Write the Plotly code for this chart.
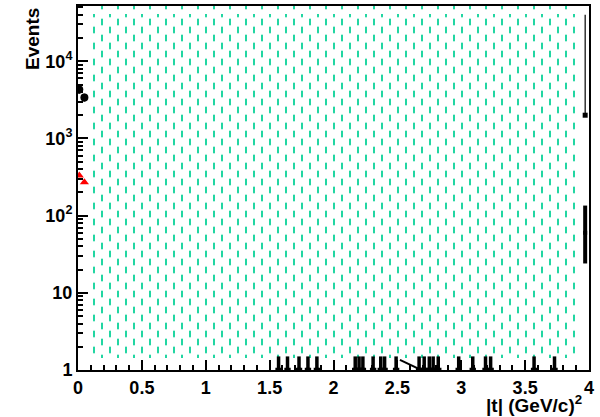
import plotly.graph_objects as go

# ---- data ----
hatch_x_range = [0.1, 3.93]       # extent of the hatched histogram
hatch_floor = 1.45
hatch_level = 1e6                 # off-scale

black_x = [0.01, 0.05]
black_y = [4300, 3400]
black_err_up = [500, 400]
black_err_dn = [500, 400]

red_x = [0.01, 0.05]
red_y = [330, 270]

low_x = [1.57, 1.64, 1.73, 1.80, 1.87, 2.17, 2.20, 2.23, 2.31, 2.37, 2.40, 2.49,
         2.67, 2.71, 2.75, 2.78, 2.82, 2.98, 3.09, 3.19, 3.23, 3.57, 3.73]
low_y = [1.03] * len(low_x)

slope_x = [2.52, 2.66]
slope_y = [1.35, 1.05]

edge_hi_x = [3.97]
edge_hi_y = [2000]
edge_hi_up = [38000]
edge_hi_dn = [0]

edge_lo_x = [3.97]
edge_lo_y = [60]
edge_lo_up = [75]
edge_lo_dn = [36]

x_ticks = [0, 0.5, 1, 1.5, 2, 2.5, 3, 3.5, 4]
x_ticklabels = ["0", "0.5", "1", "1.5", "2", "2.5", "3", "3.5", "4"]
y_ticks = [1, 10, 100, 1000, 10000]
y_ticklabels = ["1", "10", "10<sup>2</sup>", "10<sup>3</sup>", "10<sup>4</sup>"]

GREEN = "#22d6a2"
FONT = "Liberation Sans"

# ---- layout geometry ----
W, H = 600, 417
ML, MR, MT, MB = 78, 11, 4, 47
PW, PH = W - ML - MR, H - MT - MB
XR = [0, 4]
YR = [0, 4.716]
SHIFT = 8          # px offset of the second (staggered) hatch grid
TILE = 16

fig = go.Figure()

hx = (hatch_x_range[0] + hatch_x_range[1]) / 2
hw = hatch_x_range[1] - hatch_x_range[0]


def hatch(xa, ya):
    # green vertical lines
    fig.add_trace(go.Bar(x=[hx], y=[hatch_level - hatch_floor], base=[hatch_floor], width=[hw],
                         xaxis=xa, yaxis=ya,
                         marker=dict(color="rgba(0,0,0,0)", line=dict(width=0),
                                     pattern=dict(shape="|", fgcolor=GREEN, bgcolor="rgba(0,0,0,0)",
                                                  size=TILE, solidity=2 / TILE, fillmode="replace")),
                         hoverinfo="skip", showlegend=False))
    # white gaps that break them into dashes
    fig.add_trace(go.Bar(x=[hx], y=[hatch_level - hatch_floor], base=[hatch_floor], width=[hw],
                         xaxis=xa, yaxis=ya,
                         marker=dict(color="rgba(0,0,0,0)", line=dict(width=0),
                                     pattern=dict(shape=".", fgcolor="white", bgcolor="rgba(0,0,0,0)",
                                                  size=TILE, solidity=0.29, fillmode="replace")),
                         hoverinfo="skip", showlegend=False))


hatch("x", "y")
hatch("x2", "y2")

fig.add_trace(go.Scatter(x=black_x, y=black_y, mode="markers", xaxis="x3", yaxis="y3",
                         marker=dict(symbol="circle", size=8, color="black"),
                         error_y=dict(type="data", array=black_err_up, arrayminus=black_err_dn,
                                      color="black", thickness=2, width=0),
                         error_x=dict(type="constant", value=0.02, color="black", thickness=2, width=0),
                         showlegend=False))
fig.add_trace(go.Scatter(x=red_x, y=red_y, mode="markers", xaxis="x3", yaxis="y3",
                         marker=dict(symbol="triangle-up", size=8, color="red"),
                         showlegend=False))
fig.add_trace(go.Scatter(x=low_x, y=low_y, mode="markers", xaxis="x3", yaxis="y3",
                         marker=dict(symbol="square", size=3, color="black"),
                         error_y=dict(type="data", array=[0.47] * len(low_x),
                                      arrayminus=[0.3] * len(low_x),
                                      color="black", thickness=3.5, width=0),
                         error_x=dict(type="constant", value=0.025, color="black", thickness=2.5, width=0),
                         showlegend=False))
fig.add_trace(go.Scatter(x=slope_x, y=slope_y, mode="lines", xaxis="x3", yaxis="y3",
                         line=dict(color="black", width=2), showlegend=False))
fig.add_trace(go.Scatter(x=edge_hi_x, y=edge_hi_y, mode="markers", xaxis="x3", yaxis="y3",
                         marker=dict(symbol="square", size=5, color="black"),
                         error_y=dict(type="data", array=edge_hi_up, arrayminus=edge_hi_dn,
                                      color="black", thickness=1.2, width=0),
                         showlegend=False))
fig.add_trace(go.Scatter(x=edge_lo_x, y=edge_lo_y, mode="markers", xaxis="x3", yaxis="y3",
                         marker=dict(symbol="square", size=4, color="black"),
                         error_y=dict(type="data", array=edge_lo_up, arrayminus=edge_lo_dn,
                                      color="black", thickness=4, width=0),
                         showlegend=False))

fig.update_layout(
    width=W, height=H,
    margin=dict(l=ML, r=MR, t=MT, b=MB),
    paper_bgcolor="white", plot_bgcolor="rgba(0,0,0,0)",
    barmode="overlay", bargap=0,
    font=dict(family=FONT, color="black"),
    showlegend=False,
)
minor_y = [m * 10 ** d for d in range(0, 5) for m in range(2, 10)]
fig.update_layout(
    xaxis=dict(range=XR, domain=[0, 1], showline=True, linecolor="black", linewidth=2, mirror=True,
               showgrid=False, zeroline=False,
               ticks="inside", ticklen=10, tickwidth=1.5, tickcolor="black",
               tickvals=x_ticks, ticktext=x_ticklabels,
               tickfont=dict(family=FONT, size=18, weight="bold"),
               minor=dict(ticks="inside", ticklen=5, tickwidth=1.5, tickcolor="black", dtick=0.1,
                          showgrid=False)),
    yaxis=dict(type="log", range=YR, domain=[0, 1], showline=True, linecolor="black", linewidth=2,
               mirror=True, showgrid=False, zeroline=False,
               ticks="inside", ticklen=10, tickwidth=1.5, tickcolor="black",
               tickvals=y_ticks, ticktext=y_ticklabels,
               tickfont=dict(family=FONT, size=18, weight="bold"),
               minor=dict(ticks="inside", ticklen=5, tickwidth=1.5, tickcolor="black",
                          tickvals=minor_y, showgrid=False)),
    # shifted copy of the plot area: gives the staggered second row of dashes
    xaxis2=dict(visible=False, anchor="y2", domain=[SHIFT / PW, 1],
                range=[XR[0] + SHIFT * (XR[1] - XR[0]) / PW, XR[1]], fixedrange=True),
    yaxis2=dict(visible=False, anchor="x2", type="log", domain=[0, 1 - SHIFT / PH],
                range=[YR[0], YR[1] - SHIFT * (YR[1] - YR[0]) / PH], fixedrange=True),
    # data layer on top
    xaxis3=dict(visible=False, anchor="y3", domain=[0, 1], range=XR),
    yaxis3=dict(visible=False, anchor="x3", type="log", domain=[0, 1], range=YR),
)

fig.add_annotation(text="<b>Events</b>", textangle=-90, xref="paper", yref="paper",
                   x=-0.09, y=1.0, xanchor="center", yanchor="top", showarrow=False,
                   font=dict(family=FONT, size=19, color="black"))
fig.add_annotation(text="<b>|t| (GeV/c)<sup>2</sup></b>", xref="paper", yref="paper",
                   x=0.99, y=-0.055, xanchor="right", yanchor="top", showarrow=False,
                   font=dict(family=FONT, size=19, color="black"))

fig.write_html("out.html", config={"displayModeBar": False},
               post_script="document.body.style.margin='0';")
